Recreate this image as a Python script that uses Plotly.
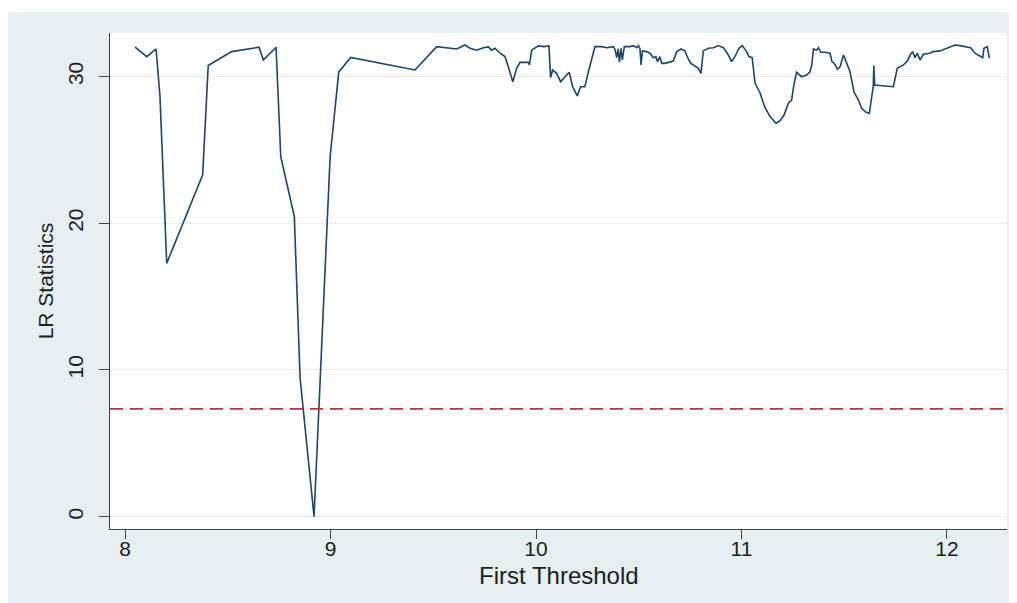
import plotly.graph_objects as go

# ---- data ----
threshold = [
    8.049, 8.106, 8.151, 8.170, 8.203, 8.378, 8.405, 8.519, 8.652, 8.673,
    8.735, 8.758, 8.824, 8.852, 8.920, 8.998, 9.040, 9.098, 9.411, 9.517,
    9.614, 9.654, 9.679, 9.711, 9.744, 9.768, 9.784, 9.800, 9.825, 9.849,
    9.865, 9.887, 9.906, 9.922, 9.963, 9.968, 9.979, 10.011, 10.039, 10.063,
    10.071, 10.081, 10.100, 10.120, 10.141, 10.162, 10.178, 10.201, 10.217, 10.238,
    10.255, 10.287, 10.320, 10.344, 10.376, 10.384, 10.393, 10.400, 10.406, 10.414,
    10.420, 10.430, 10.457, 10.474, 10.490, 10.498, 10.506, 10.511, 10.518, 10.539,
    10.555, 10.571, 10.583, 10.592, 10.603, 10.612, 10.628, 10.652, 10.668, 10.685,
    10.706, 10.725, 10.741, 10.754, 10.774, 10.790, 10.803, 10.814, 10.839, 10.863,
    10.887, 10.912, 10.936, 10.952, 10.968, 10.988, 11.004, 11.025, 11.036, 11.052,
    11.066, 11.090, 11.114, 11.139, 11.168, 11.187, 11.207, 11.228, 11.244, 11.255,
    11.268, 11.293, 11.317, 11.333, 11.342, 11.350, 11.366, 11.374, 11.386, 11.407,
    11.431, 11.440, 11.451, 11.467, 11.480, 11.496, 11.509, 11.528, 11.548, 11.569,
    11.585, 11.606, 11.622, 11.641, 11.644, 11.648, 11.739, 11.758, 11.788, 11.806,
    11.823, 11.833, 11.844, 11.856, 11.869, 11.885, 11.917, 11.933, 11.966, 11.990,
    12.015, 12.039, 12.063, 12.096, 12.115, 12.136, 12.161, 12.174, 12.180, 12.196,
    12.206,
]
lr_stat = [
    32.00, 31.36, 31.88, 28.70, 17.27, 23.30, 30.75, 31.70, 32.00, 31.13,
    32.00, 24.54, 20.45, 9.45, 0.00, 24.50, 30.30, 31.30, 30.45, 32.04,
    31.88, 32.15, 31.93, 31.80, 31.97, 32.02, 31.80, 31.93, 31.59, 31.36,
    30.68, 29.65, 30.56, 30.97, 30.97, 30.79, 31.80, 32.09, 32.04, 32.09,
    29.93, 30.45, 30.22, 29.65, 29.99, 30.29, 29.31, 28.68, 29.31, 29.31,
    30.33, 32.04, 32.04, 31.97, 32.04, 31.88, 31.30, 31.90, 31.00, 31.93,
    31.13, 32.04, 32.04, 32.11, 31.97, 32.11, 31.90, 30.79, 31.75, 31.70,
    31.59, 31.29, 31.36, 31.02, 31.36, 30.90, 30.90, 31.02, 31.06, 31.70,
    31.88, 31.75, 31.20, 30.90, 30.74, 30.56, 30.22, 31.75, 31.93, 31.97,
    32.11, 31.97, 31.47, 31.02, 31.36, 31.93, 32.11, 31.70, 31.36, 31.29,
    29.54, 28.90, 27.90, 27.27, 26.82, 26.98, 27.38, 28.18, 28.40, 29.43,
    30.29, 29.99, 30.11, 30.33, 30.79, 31.88, 31.81, 31.97, 31.66, 31.66,
    31.59, 31.02, 30.90, 30.50, 30.68, 31.47, 31.02, 30.33, 28.93, 28.40,
    27.84, 27.57, 27.50, 29.31, 30.75, 29.43, 29.31, 30.56, 30.79, 31.05,
    31.52, 31.70, 31.29, 31.59, 31.13, 31.52, 31.59, 31.70, 31.75, 31.88,
    32.04, 32.15, 32.11, 32.04, 31.97, 31.59, 31.36, 31.29, 31.93, 32.04,
    31.25,
]
critical_value = 7.35
x_ticks = [8, 9, 10, 11, 12]
y_ticks = [0, 10, 20, 30]
x_title = "First Threshold"
y_title = "LR Statistics"

BG = "#E6EFF1"
FONT = "Liberation Sans, Arial, sans-serif"
TXT = "#1e1e1e"

fig = go.Figure()
fig.add_trace(go.Scatter(
    x=threshold, y=lr_stat, mode="lines",
    line=dict(color="#1A476F", width=1.6),
    showlegend=False, hoverinfo="x+y",
))
fig.add_hline(y=critical_value, line=dict(color="#B8363F", width=1.6, dash="13px,7px"))

# thin white strip along the top edge of the graph region
fig.add_shape(type="rect", xref="paper", yref="paper",
              x0=-0.13, x1=1.05, y0=1.0423, y1=1.1, fillcolor="white",
              line_width=0, layer="below")

# x-axis title as centred text below the tick labels
fig.add_annotation(text=x_title, xref="paper", yref="paper", x=0.5, y=-0.094,
                   xanchor="center", yanchor="middle", showarrow=False,
                   font=dict(size=24, color=TXT, family=FONT))

fig.update_layout(
    width=1009, height=595,
    margin=dict(l=102, r=10, t=25, b=74, autoexpand=False),
    paper_bgcolor=BG, plot_bgcolor="white",
    font=dict(family=FONT, size=21, color=TXT),
    showlegend=False,
)
fig.update_xaxes(
    range=[7.927, 12.292], tickvals=x_ticks, ticktext=[str(v) for v in x_ticks],
    showgrid=False, zeroline=False, showline=True, linecolor="#444", linewidth=1.3,
    ticks="outside", ticklen=9, tickwidth=1.3, tickcolor="#444",
    tickfont=dict(size=21, color=TXT), automargin=False, ticklabelstandoff=-8,
)
fig.update_yaxes(
    range=[-0.838, 32.97], tickvals=y_ticks, ticktext=[str(v) for v in y_ticks],
    showgrid=True, gridcolor="#E8EEF0", gridwidth=1.2, zeroline=False,
    showline=True, linecolor="#444", linewidth=1.3,
    ticks="outside", ticklen=10, tickwidth=1.3, tickcolor="#444",
    tickangle=-90, tickfont=dict(size=21, color=TXT), automargin=False,
    ticklabelstandoff=7,
    title=dict(text=y_title, font=dict(size=21, color=TXT), standoff=5),
)

fig.write_html("out.html")
